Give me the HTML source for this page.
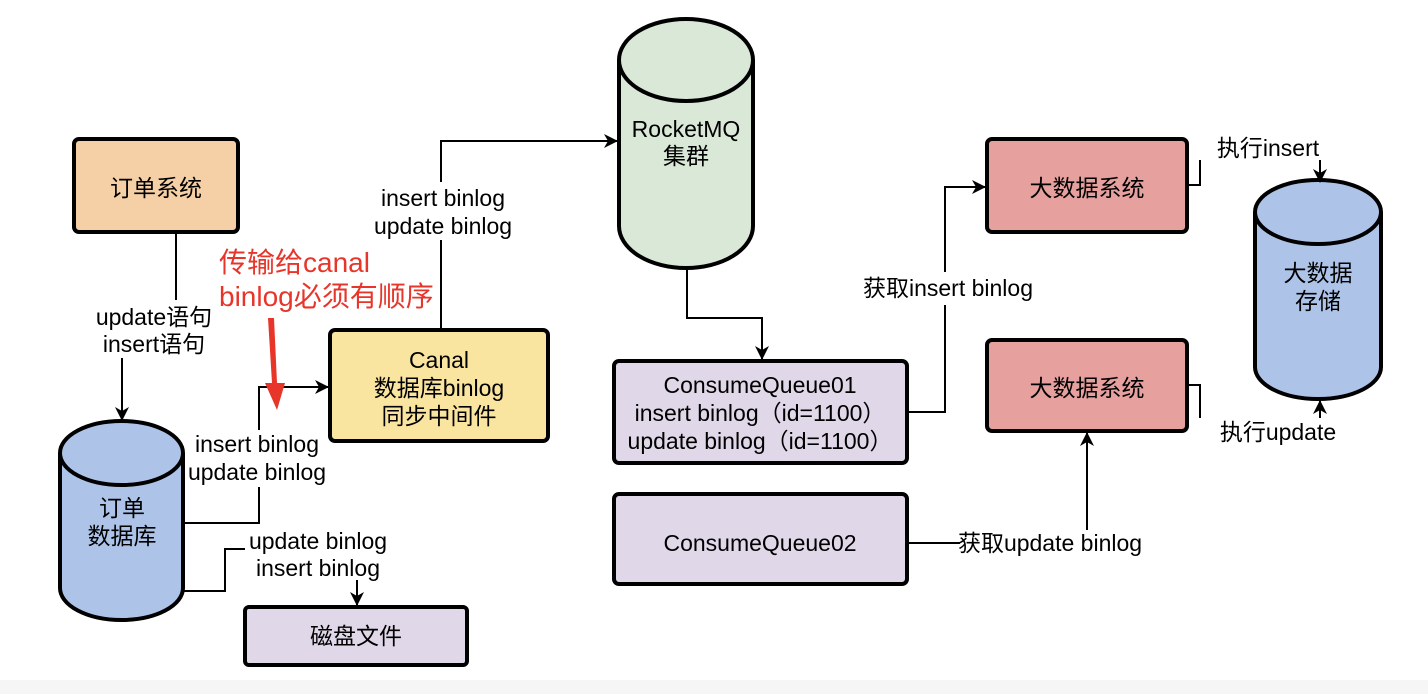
<!DOCTYPE html>
<html><head><meta charset="utf-8"><style>
html,body{margin:0;padding:0;background:#fff;}
svg{display:block;}
text{font-family:"Liberation Sans","Noto Sans CJK SC",sans-serif;font-size:23px;fill:#000;}
</style></head><body>
<svg width="1428" height="694" viewBox="0 0 1428 694" xmlns="http://www.w3.org/2000/svg">
<defs>
<marker id="a" markerWidth="14" markerHeight="14" refX="13" refY="7" orient="auto" markerUnits="userSpaceOnUse"><path d="M0,0 L14,7 L0,14 L4,7 Z" fill="#000"/></marker>
</defs>
<rect x="0" y="680" width="1428" height="14" fill="#f6f6f6"/>
<g stroke="#000" stroke-width="4">
<rect x="74" y="139" width="164" height="93" rx="5" fill="#f5cfa5"/>
<rect x="330" y="330" width="218" height="111" rx="5" fill="#fae5a0"/>
<rect x="245" y="607" width="222" height="58" rx="4" fill="#e0d8e8"/>
<rect x="614" y="361" width="293" height="102" rx="5" fill="#e0d8e8"/>
<rect x="614" y="494" width="293" height="90" rx="5" fill="#e0d8e8"/>
<rect x="987" y="139" width="200" height="93" rx="5" fill="#e6a09e"/>
<rect x="987" y="340" width="200" height="91" rx="5" fill="#e6a09e"/>
<path d="M60,453 L60,588 A61.5,32 0 0 0 183,588 L183,453" fill="#adc4e8"/>
<ellipse cx="121.5" cy="453" rx="61.5" ry="32" fill="#adc4e8"/>
<path d="M619,60 L619,226 A67,42 0 0 0 753,226 L753,60" fill="#d9e8d7"/>
<ellipse cx="686" cy="60" rx="67" ry="41" fill="#d9e8d7"/>
<path d="M1255,212 L1255,367 A63,32 0 0 0 1381,367 L1381,212" fill="#adc4e8"/>
<ellipse cx="1318" cy="212" rx="63" ry="32" fill="#adc4e8"/>
</g>
<g stroke="#000" stroke-width="2" fill="none">
<path d="M176,232 V300"/>
<path d="M122,358 V420" marker-end="url(#a)"/>
<path d="M184,523 H259 V487 M259,430 V387 H328" marker-end="url(#a)"/>
<path d="M184,591 H225 V549 H245"/>
<path d="M357,580 V605" marker-end="url(#a)"/>
<path d="M441,330 V240 M441,182 V141 H617" marker-end="url(#a)"/>
<path d="M687,268 V318 H762 V359" marker-end="url(#a)"/>
<path d="M907,412 H945 V305 M945,272 V187 H985" marker-end="url(#a)"/>
<path d="M907,543 H960"/>
<path d="M1087,530 V433" marker-end="url(#a)"/>
<path d="M1187,185 H1200 V160"/>
<path d="M1320,160 V182" marker-end="url(#a)"/>
<path d="M1187,385 H1200 V418"/>
<path d="M1320,418 V401" marker-end="url(#a)"/>
</g>
<path d="M268,318 L274,318 L277,383 L285,383 L277,410 L265,383 L272,383 Z" fill="#e8352a"/>
<g text-anchor="middle">
<text x="156" y="196">订单系统</text>
<text x="439" y="368">Canal</text>
<text x="439" y="396">数据库binlog</text>
<text x="439" y="424">同步中间件</text>
<text x="356" y="644">磁盘文件</text>
<text x="122" y="516">订单</text>
<text x="122" y="544">数据库</text>
<text x="686" y="137">RocketMQ</text>
<text x="686" y="164">集群</text>
<text x="760" y="393">ConsumeQueue01</text>
<text x="760" y="421">insert binlog（id=1100）</text>
<text x="760" y="449">update binlog（id=1100）</text>
<text x="760" y="551">ConsumeQueue02</text>
<text x="1087" y="196">大数据系统</text>
<text x="1087" y="396">大数据系统</text>
<text x="1318" y="281">大数据</text>
<text x="1318" y="309">存储</text>
<text x="154" y="325">update语句</text>
<text x="154" y="352">insert语句</text>
<text x="257" y="452">insert binlog</text>
<text x="257" y="480">update binlog</text>
<text x="318" y="549">update binlog</text>
<text x="318" y="576">insert binlog</text>
<text x="443" y="206">insert binlog</text>
<text x="443" y="234">update binlog</text>
<text x="948" y="296">获取insert binlog</text>
<text x="1050" y="551">获取update binlog</text>
<text x="1268" y="156">执行insert</text>
<text x="1278" y="440">执行update</text>
</g>
<text x="219" y="272" style="fill:#e8352a;font-size:28px">传输给canal</text>
<text x="219" y="306" style="fill:#e8352a;font-size:28px">binlog必须有顺序</text>
</svg>
</body></html>
